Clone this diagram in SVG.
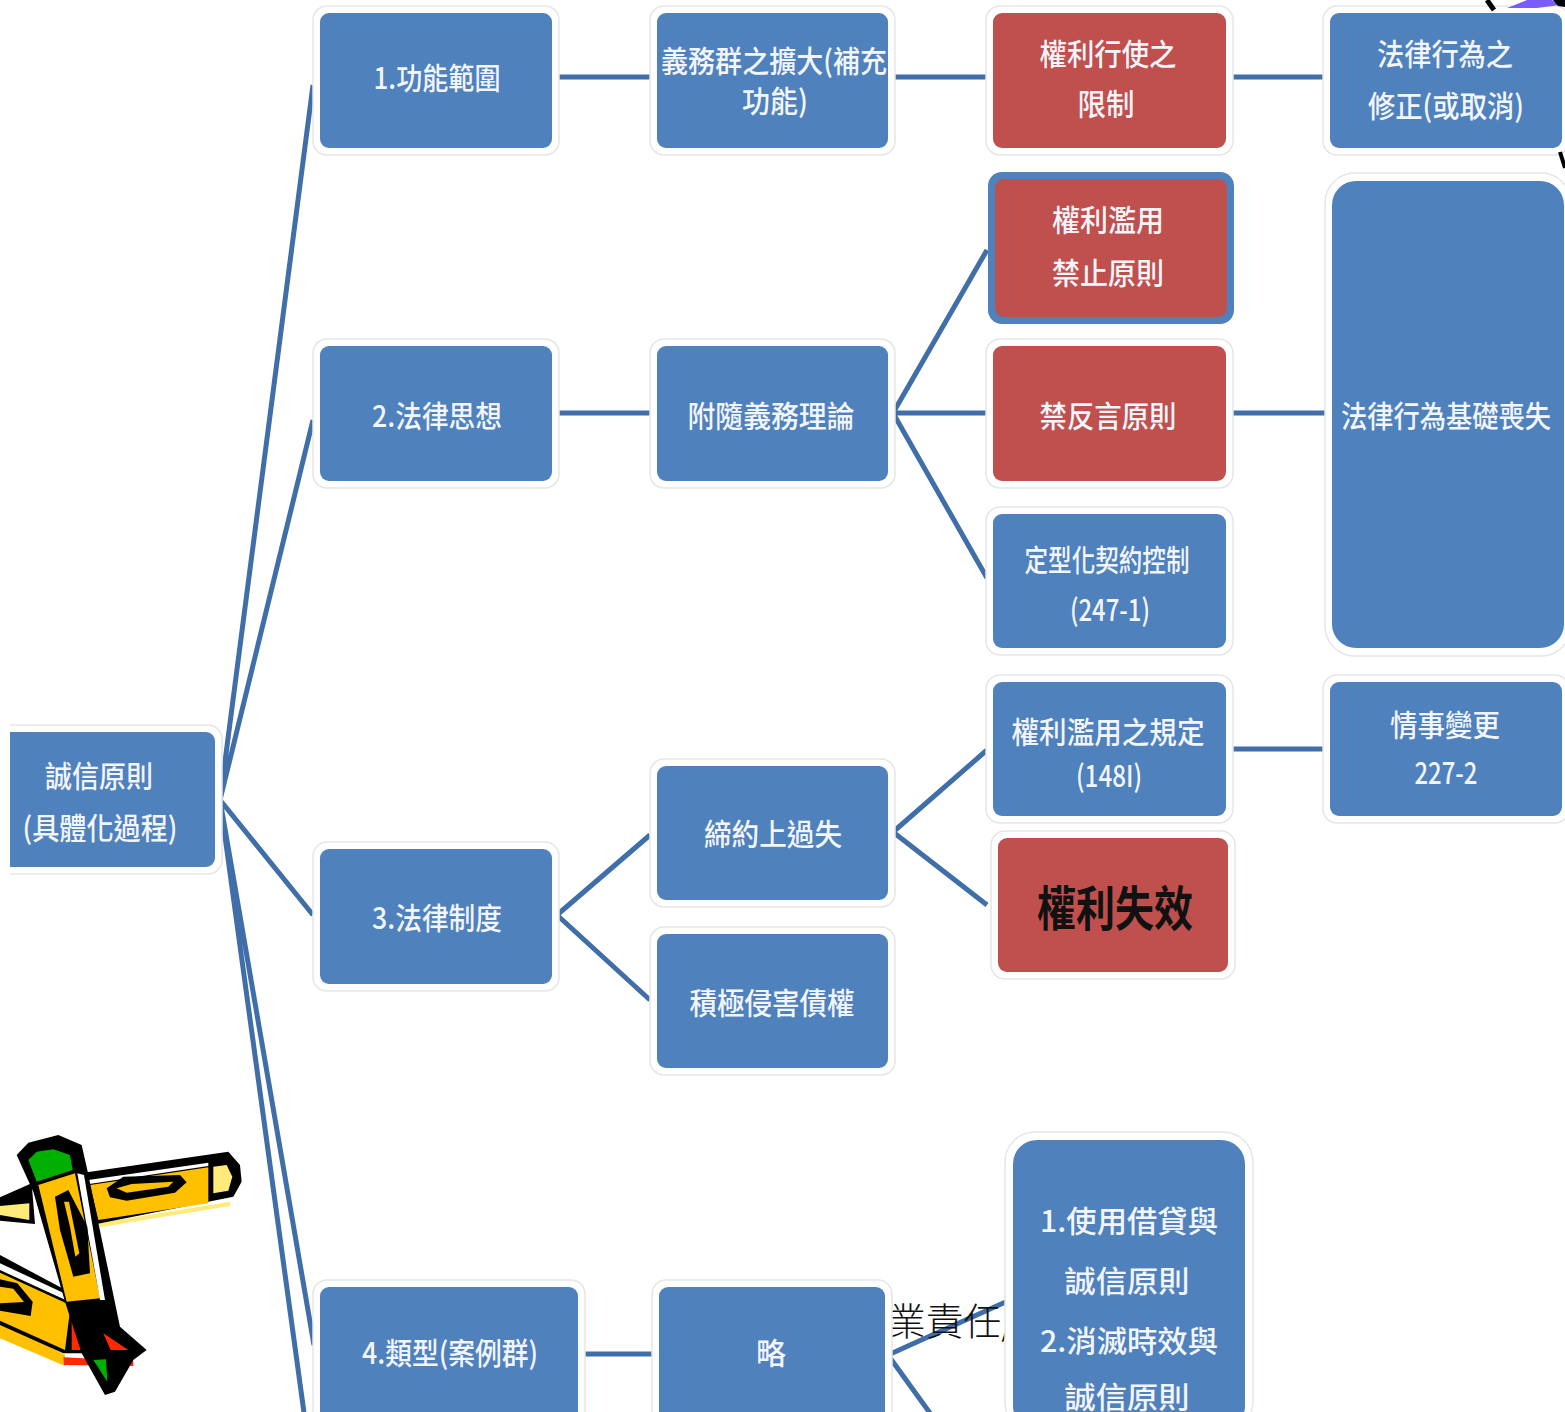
<svg xmlns="http://www.w3.org/2000/svg" width="1565" height="1412" viewBox="0 0 1565 1412">
  <defs>
    <style>
      .frame { fill: #ffffff; stroke: #e6e6e6; stroke-width: 1.5; }
      .blue { fill: #4f81bd; }
      .red { fill: #c0504d; }
      .t { font-family: "Noto Sans CJK TC", "Noto Sans", sans-serif; font-size: 30px; font-weight: 500; fill: #f2f5fa; text-anchor: middle; }
      .big { font-family: "Noto Sans CJK TC", sans-serif; font-size: 48px; font-weight: 700; fill: #111111; text-anchor: middle; }
      .plain { font-family: "Noto Sans CJK TC", serif; font-size: 38px; font-weight: 300; fill: #111111; }
      .conn { fill: none; stroke: #3f6ea9; stroke-width: 5; stroke-linecap: butt; }
      .k { fill: #000000; }
      .y { fill: #ffc000; }
      .ly { fill: #ffeb7a; }
      .w { fill: #ffffff; }
      .g { fill: #00b000; }
      .r { fill: #ff2a00; }
    </style>
    <clipPath id="rootClip"><rect x="10" y="0" width="400" height="1412"/></clipPath>
  </defs>

  <rect x="0" y="0" width="1565" height="1412" fill="#ffffff"/>

  <!-- connectors -->
  <g id="connectors">
    <path class="conn" d="M220,800 L313,85 M220,800 L313,420 M220,800 L313,915 M220,800 L314,1345 M220,800 L305,1420"/>
    <path class="conn" d="M557,77 H650 M893,77 H987 M1232,77 H1325"/>
    <path class="conn" d="M557,413 H650 M893,413 L987,250 M893,413 H987 M893,413 L987,578 M1232,413 H1325"/>
    <path class="conn" d="M557,915 L650,835 M557,915 L650,1000 M893,832 L987,750 M893,832 L987,905 M1232,749 H1325"/>
    <path class="conn" d="M582,1354 H652 M888,1355 L1010,1300 M888,1355 L935,1420"/>
  </g>

  <!-- loose caption text partly hidden behind the box to its right -->
  <text class="plain" x="888" y="1335" textLength="128" lengthAdjust="spacingAndGlyphs">業責任/</text>

  <!-- root -->
  <g id="root" clip-path="url(#rootClip)">
    <rect class="frame" x="-20" y="725" width="242" height="149" rx="14"/>
    <rect class="blue" x="-20" y="732" width="235" height="135" rx="9"/>
    <text class="t" x="99" y="787" textLength="108" lengthAdjust="spacingAndGlyphs">誠信原則</text>
    <text class="t" x="100" y="839" textLength="155" lengthAdjust="spacingAndGlyphs">(具體化過程)</text>
  </g>

  <!-- column 1 -->
  <g id="n1">
    <rect class="frame" x="313" y="6" width="246" height="149" rx="14"/>
    <rect class="blue" x="320" y="13" width="232" height="135" rx="9"/>
    <text class="t" x="437" y="89" textLength="127" lengthAdjust="spacingAndGlyphs">1.功能範圍</text>
  </g>
  <g id="n2">
    <rect class="frame" x="313" y="339" width="246" height="149" rx="14"/>
    <rect class="blue" x="320" y="346" width="232" height="135" rx="9"/>
    <text class="t" x="437" y="427" textLength="130" lengthAdjust="spacingAndGlyphs">2.法律思想</text>
  </g>
  <g id="n3">
    <rect class="frame" x="313" y="842" width="246" height="149" rx="14"/>
    <rect class="blue" x="320" y="849" width="232" height="135" rx="9"/>
    <text class="t" x="437" y="929" textLength="130" lengthAdjust="spacingAndGlyphs">3.法律制度</text>
  </g>
  <g id="n4">
    <rect class="frame" x="313" y="1280" width="272" height="160" rx="14"/>
    <rect class="blue" x="320" y="1287" width="258" height="150" rx="9"/>
    <text class="t" x="450" y="1364" textLength="176" lengthAdjust="spacingAndGlyphs">4.類型(案例群)</text>
  </g>

  <!-- column 2 -->
  <g id="n1a">
    <rect class="frame" x="650" y="6" width="245" height="149" rx="14"/>
    <rect class="blue" x="657" y="13" width="231" height="135" rx="9"/>
    <text class="t" x="774" y="72" textLength="226" lengthAdjust="spacingAndGlyphs">義務群之擴大(補充</text>
    <text class="t" x="775" y="112" textLength="66" lengthAdjust="spacingAndGlyphs">功能)</text>
  </g>
  <g id="n2a">
    <rect class="frame" x="650" y="339" width="245" height="149" rx="14"/>
    <rect class="blue" x="657" y="346" width="231" height="135" rx="9"/>
    <text class="t" x="771" y="427" textLength="167" lengthAdjust="spacingAndGlyphs">附隨義務理論</text>
  </g>
  <g id="n3a">
    <rect class="frame" x="650" y="759" width="245" height="148" rx="14"/>
    <rect class="blue" x="657" y="766" width="231" height="134" rx="9"/>
    <text class="t" x="773" y="845" textLength="138" lengthAdjust="spacingAndGlyphs">締約上過失</text>
  </g>
  <g id="n3b">
    <rect class="frame" x="650" y="927" width="245" height="148" rx="14"/>
    <rect class="blue" x="657" y="934" width="231" height="134" rx="9"/>
    <text class="t" x="772" y="1014" textLength="165" lengthAdjust="spacingAndGlyphs">積極侵害債權</text>
  </g>
  <g id="n4a">
    <rect class="frame" x="652" y="1280" width="240" height="160" rx="14"/>
    <rect class="blue" x="659" y="1287" width="226" height="150" rx="9"/>
    <text class="t" x="771" y="1364">略</text>
  </g>

  <!-- column 3 -->
  <g id="n1b">
    <rect class="frame" x="986" y="6" width="247" height="149" rx="14"/>
    <rect class="red" x="993" y="13" width="233" height="135" rx="9"/>
    <text class="t" x="1108" y="65" textLength="137" lengthAdjust="spacingAndGlyphs">權利行使之</text>
    <text class="t" x="1106" y="115" textLength="57" lengthAdjust="spacingAndGlyphs">限制</text>
  </g>
  <g id="n2b">
    <rect x="988" y="172" width="246" height="152" rx="14" fill="#4f81bd"/>
    <rect class="red" x="995" y="179" width="232" height="138" rx="9"/>
    <text class="t" x="1108" y="231" textLength="112" lengthAdjust="spacingAndGlyphs">權利濫用</text>
    <text class="t" x="1108" y="284" textLength="112" lengthAdjust="spacingAndGlyphs">禁止原則</text>
  </g>
  <g id="n2c">
    <rect class="frame" x="986" y="339" width="247" height="149" rx="14"/>
    <rect class="red" x="993" y="346" width="233" height="135" rx="9"/>
    <text class="t" x="1108" y="427" textLength="137" lengthAdjust="spacingAndGlyphs">禁反言原則</text>
  </g>
  <g id="n2d">
    <rect class="frame" x="986" y="507" width="247" height="148" rx="14"/>
    <rect class="blue" x="993" y="514" width="233" height="134" rx="9"/>
    <text class="t" x="1107" y="571" textLength="165" lengthAdjust="spacingAndGlyphs">定型化契約控制</text>
    <text class="t" x="1110" y="621" textLength="80" lengthAdjust="spacingAndGlyphs">(247-1)</text>
  </g>
  <g id="n3c">
    <rect class="frame" x="986" y="675" width="247" height="148" rx="14"/>
    <rect class="blue" x="993" y="682" width="233" height="134" rx="9"/>
    <text class="t" x="1108" y="743" font-size="28" textLength="193" lengthAdjust="spacingAndGlyphs">權利濫用之規定</text>
    <text class="t" x="1109" y="787" font-size="28" textLength="66" lengthAdjust="spacingAndGlyphs">(148I)</text>
  </g>
  <g id="n3d">
    <rect class="frame" x="991" y="831" width="244" height="148" rx="14"/>
    <rect class="red" x="998" y="838" width="230" height="134" rx="9"/>
    <text class="big" x="1115" y="926" textLength="156" lengthAdjust="spacingAndGlyphs">權利失效</text>
  </g>
  <g id="n4b">
    <rect class="frame" x="1005" y="1132" width="248" height="300" rx="30"/>
    <rect class="blue" x="1013" y="1140" width="232" height="290" rx="24"/>
    <text class="t" x="1129" y="1232" font-size="34" textLength="178" lengthAdjust="spacingAndGlyphs">1.使用借貸與</text>
    <text class="t" x="1127" y="1292" font-size="34" textLength="125" lengthAdjust="spacingAndGlyphs">誠信原則</text>
    <text class="t" x="1129" y="1352" font-size="34" textLength="178" lengthAdjust="spacingAndGlyphs">2.消滅時效與</text>
    <text class="t" x="1127" y="1408" font-size="34" textLength="125" lengthAdjust="spacingAndGlyphs">誠信原則</text>
  </g>

  <!-- column 4 -->
  <g id="n1c">
    <rect class="frame" x="1323" y="6" width="246" height="149" rx="14"/>
    <rect class="blue" x="1330" y="13" width="232" height="135" rx="9"/>
    <text class="t" x="1445" y="65" textLength="136" lengthAdjust="spacingAndGlyphs">法律行為之</text>
    <text class="t" x="1446" y="117" textLength="156" lengthAdjust="spacingAndGlyphs">修正(或取消)</text>
  </g>
  <g id="n2e">
    <rect class="frame" x="1325" y="173" width="246" height="483" rx="30"/>
    <rect class="blue" x="1332" y="181" width="232" height="467" rx="24"/>
    <text class="t" x="1446" y="427" textLength="210" lengthAdjust="spacingAndGlyphs">法律行為基礎喪失</text>
  </g>
  <g id="n3e">
    <rect class="frame" x="1323" y="675" width="246" height="148" rx="14"/>
    <rect class="blue" x="1330" y="682" width="232" height="134" rx="9"/>
    <text class="t" x="1445" y="736" textLength="110" lengthAdjust="spacingAndGlyphs">情事變更</text>
    <text class="t" x="1446" y="784" textLength="63" lengthAdjust="spacingAndGlyphs">227-2</text>
  </g>

  <!-- clip-art fragments at the top-right edge -->
  <g id="corner-art">
    <path d="M1487,0 L1494,10" stroke="#000" stroke-width="5"/>
    <polygon points="1507,8 1527,0 1552,0 1560,5 1537,8" fill="#7b5cff"/>
    <polygon points="1553,0 1565,0 1565,7 1558,6" fill="#000"/>
    <path d="M1560,152 L1565,168" stroke="#000" stroke-width="4"/>
  </g>

  <!-- pencils clip-art, bottom-left -->
  <g id="pencils" transform="translate(0,1120) scale(0.3333)">
    <!-- lower pencil -->
    <polygon class="y" points="0,600 195,705 195,738 0,655"/>
    <polygon class="k" points="0,405 215,520 300,560 330,610 290,700 190,700 0,615"/>
    <polygon class="w" points="0,430 215,530 215,548 0,450"/>
    <polygon class="y" points="0,458 212,556 195,690 0,602"/>
    <polygon class="k" points="0,478 52,490 98,545 92,588 0,572"/>
    <polygon class="y" points="0,500 40,506 72,546 0,550"/>
    <polygon class="r" points="215,598 290,586 312,622 280,690 215,690"/>
    <polygon class="r" points="190,712 400,722 400,738 192,735"/>
    <!-- horizontal pencil -->
    <polygon class="ly" points="295,310 690,245 690,258 300,322"/>
    <polygon class="k" points="240,160 685,95 720,135 725,185 700,230 290,312 275,250"/>
    <polygon class="w" points="265,180 625,128 625,138 268,192"/>
    <polygon class="y" points="270,195 625,142 625,250 295,300"/>
    <polygon class="ly" points="640,140 680,135 697,170 685,212 640,220"/>
    <polygon class="k" points="320,205 370,170 540,165 560,187 525,218 380,242 330,232"/>
    <polygon class="y" points="350,205 395,192 520,185 505,200 380,218"/>
    <polygon class="k" points="0,232 95,190 105,312 0,302"/>
    <polygon class="ly" points="0,258 88,250 88,300 0,285"/>
    <!-- upright pencil -->
    <polygon class="k" points="50,105 85,68 175,45 245,75 262,150 360,620 440,690 400,720 345,815 315,825 245,700 195,545 100,215"/>
    <polygon class="g" points="85,120 110,95 160,88 210,105 218,150 110,185"/>
    <polygon class="y" points="115,195 225,160 300,535 200,545"/>
    <polygon class="w" points="232,160 252,165 315,540 300,540"/>
    <polygon class="k" points="165,230 205,210 262,320 270,460 220,470 180,330"/>
    <polygon class="y" points="192,245 207,245 238,400 226,410 210,320"/>
    <polygon class="r" points="310,640 332,690 385,690"/>
    <polygon class="g" points="280,720 318,718 322,785"/>
  </g>
</svg>
